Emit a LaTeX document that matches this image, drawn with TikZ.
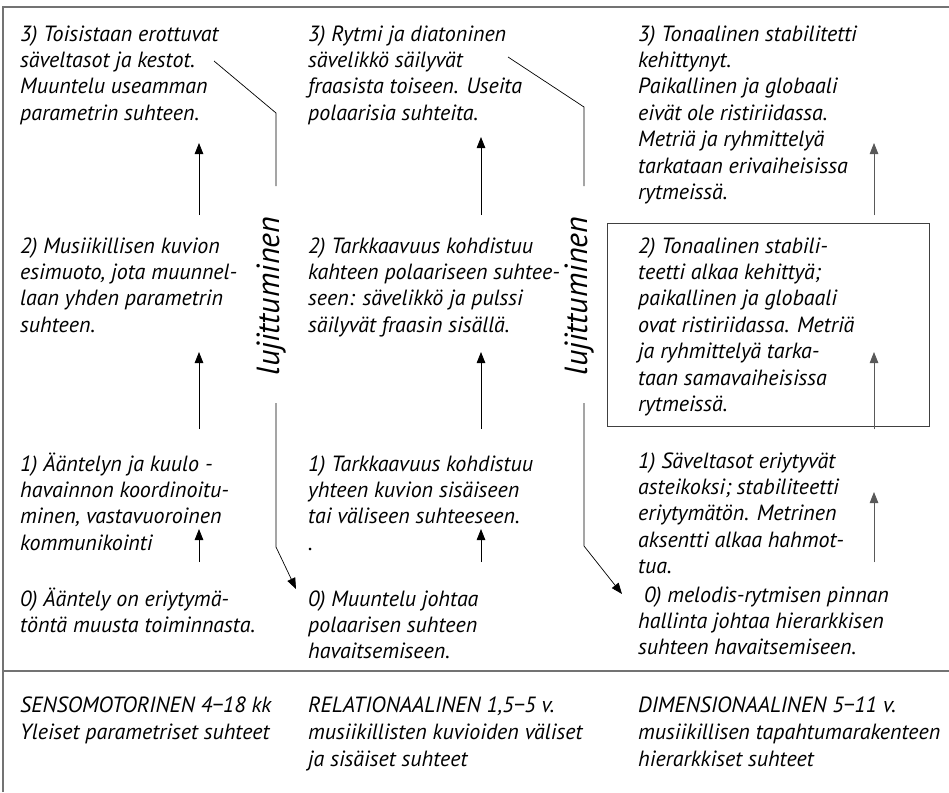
\documentclass[tikz,border=0pt]{standalone}
\usepackage{fontspec}
\setmainfont{PT Sans}
\usetikzlibrary{arrows.meta,calc}

\begin{document}
\begin{tikzpicture}[x=1pt,y=-1pt,
  % multi-line text blocks are placed by the baseline of their last line
  txt/.style={font=\fontsize{22}{26.4}\selectfont\itshape, align=left, inner sep=0pt, anchor=base west},
  btxt/.style={txt, font=\fontsize{22}{27}\selectfont\itshape},
  lab/.style={font=\fontsize{32}{36}\selectfont\itshape, rotate=90, inner sep=0pt, anchor=center},
  frame/.style={draw=black!55, line width=1.6pt},
  arr/.style={draw=black, line width=0.8pt, -{Triangle[length=11pt,width=8.5pt]}},
  garr/.style={arr, draw=black!65, fill=black!65},
  conn/.style={draw=black, line width=0.7pt},
  sbox/.style={draw=black!75, line width=0.9pt}
]
\useasboundingbox (0,0) rectangle (949,792);

% outer frame and divider
\draw[frame] (3,792) -- (3,7) -- (949,7);
\draw[frame] (3,671) -- (949,671);

% column 1
\node[txt] (c1r3) at (20,120.2) {3) Toisistaan erottuvat\\säveltasot ja kestot.\\Muuntelu useamman\\parametrin suhteen.};
\node[txt] (c1r2) at (20,332.2) {2) Musiikillisen kuvion\\esimuoto, jota muunnel-\\laan yhden parametrin\\suhteen.};
\node[txt] (c1r1) at (20,550.2) {1) Ääntelyn ja kuulo -\\havainnon koordinoitu-\\minen, vastavuoroinen\\kommunikointi};
\node[txt] (c1r0) at (20,632.4) {0) Ääntely on eriytymä-\\töntä muusta toiminnasta.};

% column 2
\node[txt] (c2r3) at (308,120.2) {3) Rytmi ja diatoninen\\sävelikkö säilyvät\\fraasista toiseen. Useita\\polaarisia suhteita.};
\node[txt] (c2r2) at (308,332.2) {2) Tarkkaavuus kohdistuu\\kahteen polaariseen suhtee-\\seen: sävelikkö ja pulssi\\säilyvät fraasin sisällä.};
\node[txt] (c2r1) at (308,550.2) {1) Tarkkaavuus kohdistuu\\yhteen kuvion sisäiseen\\tai väliseen suhteeseen.\\.};
\node[txt] (c2r0) at (308,658.8) {0) Muuntelu johtaa\\polaarisen suhteen\\havaitsemiseen.};

% column 3
\node[txt] (c3r3) at (638,199.4) {3) Tonaalinen stabilitetti\\kehittynyt.\\Paikallinen ja globaali\\eivät ole ristiriidassa.\\Metriä ja ryhmittelyä\\tarkataan erivaiheisissa\\rytmeissä.};
\draw[sbox] (607,223) rectangle (929,426);
\node[txt] (c3r2) at (638,411.4) {2) Tonaalinen stabili-\\teetti alkaa kehittyä;\\paikallinen ja globaali\\ovat ristiriidassa. Metriä\\ja ryhmittelyä tarka-\\taan samavaiheisissa\\rytmeissä.};
\node[txt] (c3r1) at (638,573.6) {1) Säveltasot eriytyvät\\asteikoksi; stabiliteetti\\eriytymätön. Metrinen\\aksentti alkaa hahmot-\\tua.};
\node[txt] (c3r0) at (638,654.8) {\ 0) melodis-rytmisen pinnan\\hallinta johtaa hierarkkisen\\suhteen havaitsemiseen.};

% stage labels
\node[btxt] (b1) at (20,739) {SENSOMOTORINEN 4−18 kk\\Yleiset parametriset suhteet};
\node[btxt] (b2) at (308,766) {RELATIONAALINEN 1,5−5 v.\\musiikillisten kuvioiden väliset\\ja sisäiset suhteet};
\node[btxt] (b3) at (638,766) {DIMENSIONAALINEN 5−11 v.\\musiikillisen tapahtumarakenteen\\hierarkkiset suhteet};

% upward arrows between levels
\coordinate (a1a) at (199,215); \coordinate (a1b) at (199,143);
\coordinate (a2a) at (199,429); \coordinate (a2b) at (199,352);
\coordinate (a3a) at (199,562); \coordinate (a3b) at (199,529);
\coordinate (b1a) at (481,215); \coordinate (b1b) at (481,137);
\coordinate (b2a) at (481,429); \coordinate (b2b) at (481,352);
\coordinate (b3a) at (481,562); \coordinate (b3b) at (481,529);
\coordinate (g1a) at (874,215); \coordinate (g1b) at (874,143);
\coordinate (g2a) at (874,429); \coordinate (g2b) at (874,352);
\coordinate (g3a) at (874,562); \coordinate (g3b) at (874,492);
\draw[arr] (a1a) -- (a1b);
\draw[arr] (a2a) -- (a2b);
\draw[arr] (a3a) -- (a3b);
\draw[arr] (b1a) -- (b1b);
\draw[arr] (b2a) -- (b2b);
\draw[arr] (b3a) -- (b3b);
\draw[garr] (g1a) -- (g1b);
\draw[garr] (g2a) -- (g2b);
\draw[garr] (g3a) -- (g3b);

% consolidation paths
\node[lab] (l1) at (271,296) {lujittuminen};
\node[lab] (l2) at (579,296) {lujittuminen};
\coordinate (p1s) at (214,61);  \coordinate (p1k) at (276,113);
\coordinate (p1u) at (276,186); \coordinate (p1d) at (276,403);
\coordinate (p1m) at (276,547); \coordinate (p1t) at (296,589);
\coordinate (p2s) at (508,57);  \coordinate (p2k) at (584,107);
\coordinate (p2u) at (584,186); \coordinate (p2d) at (584,403);
\coordinate (p2m) at (584,546); \coordinate (p2t) at (622,594);
\draw[conn] (p1s) -- (p1k) -- (p1u);
\draw[conn, -{Triangle[length=11pt,width=8.5pt]}] (p1d) -- (p1m) -- (p1t);
\draw[conn] (p2s) -- (p2k) -- (p2u);
\draw[conn, -{Triangle[length=11pt,width=8.5pt]}] (p2d) -- (p2m) -- (p2t);
\end{tikzpicture}
\end{document}
